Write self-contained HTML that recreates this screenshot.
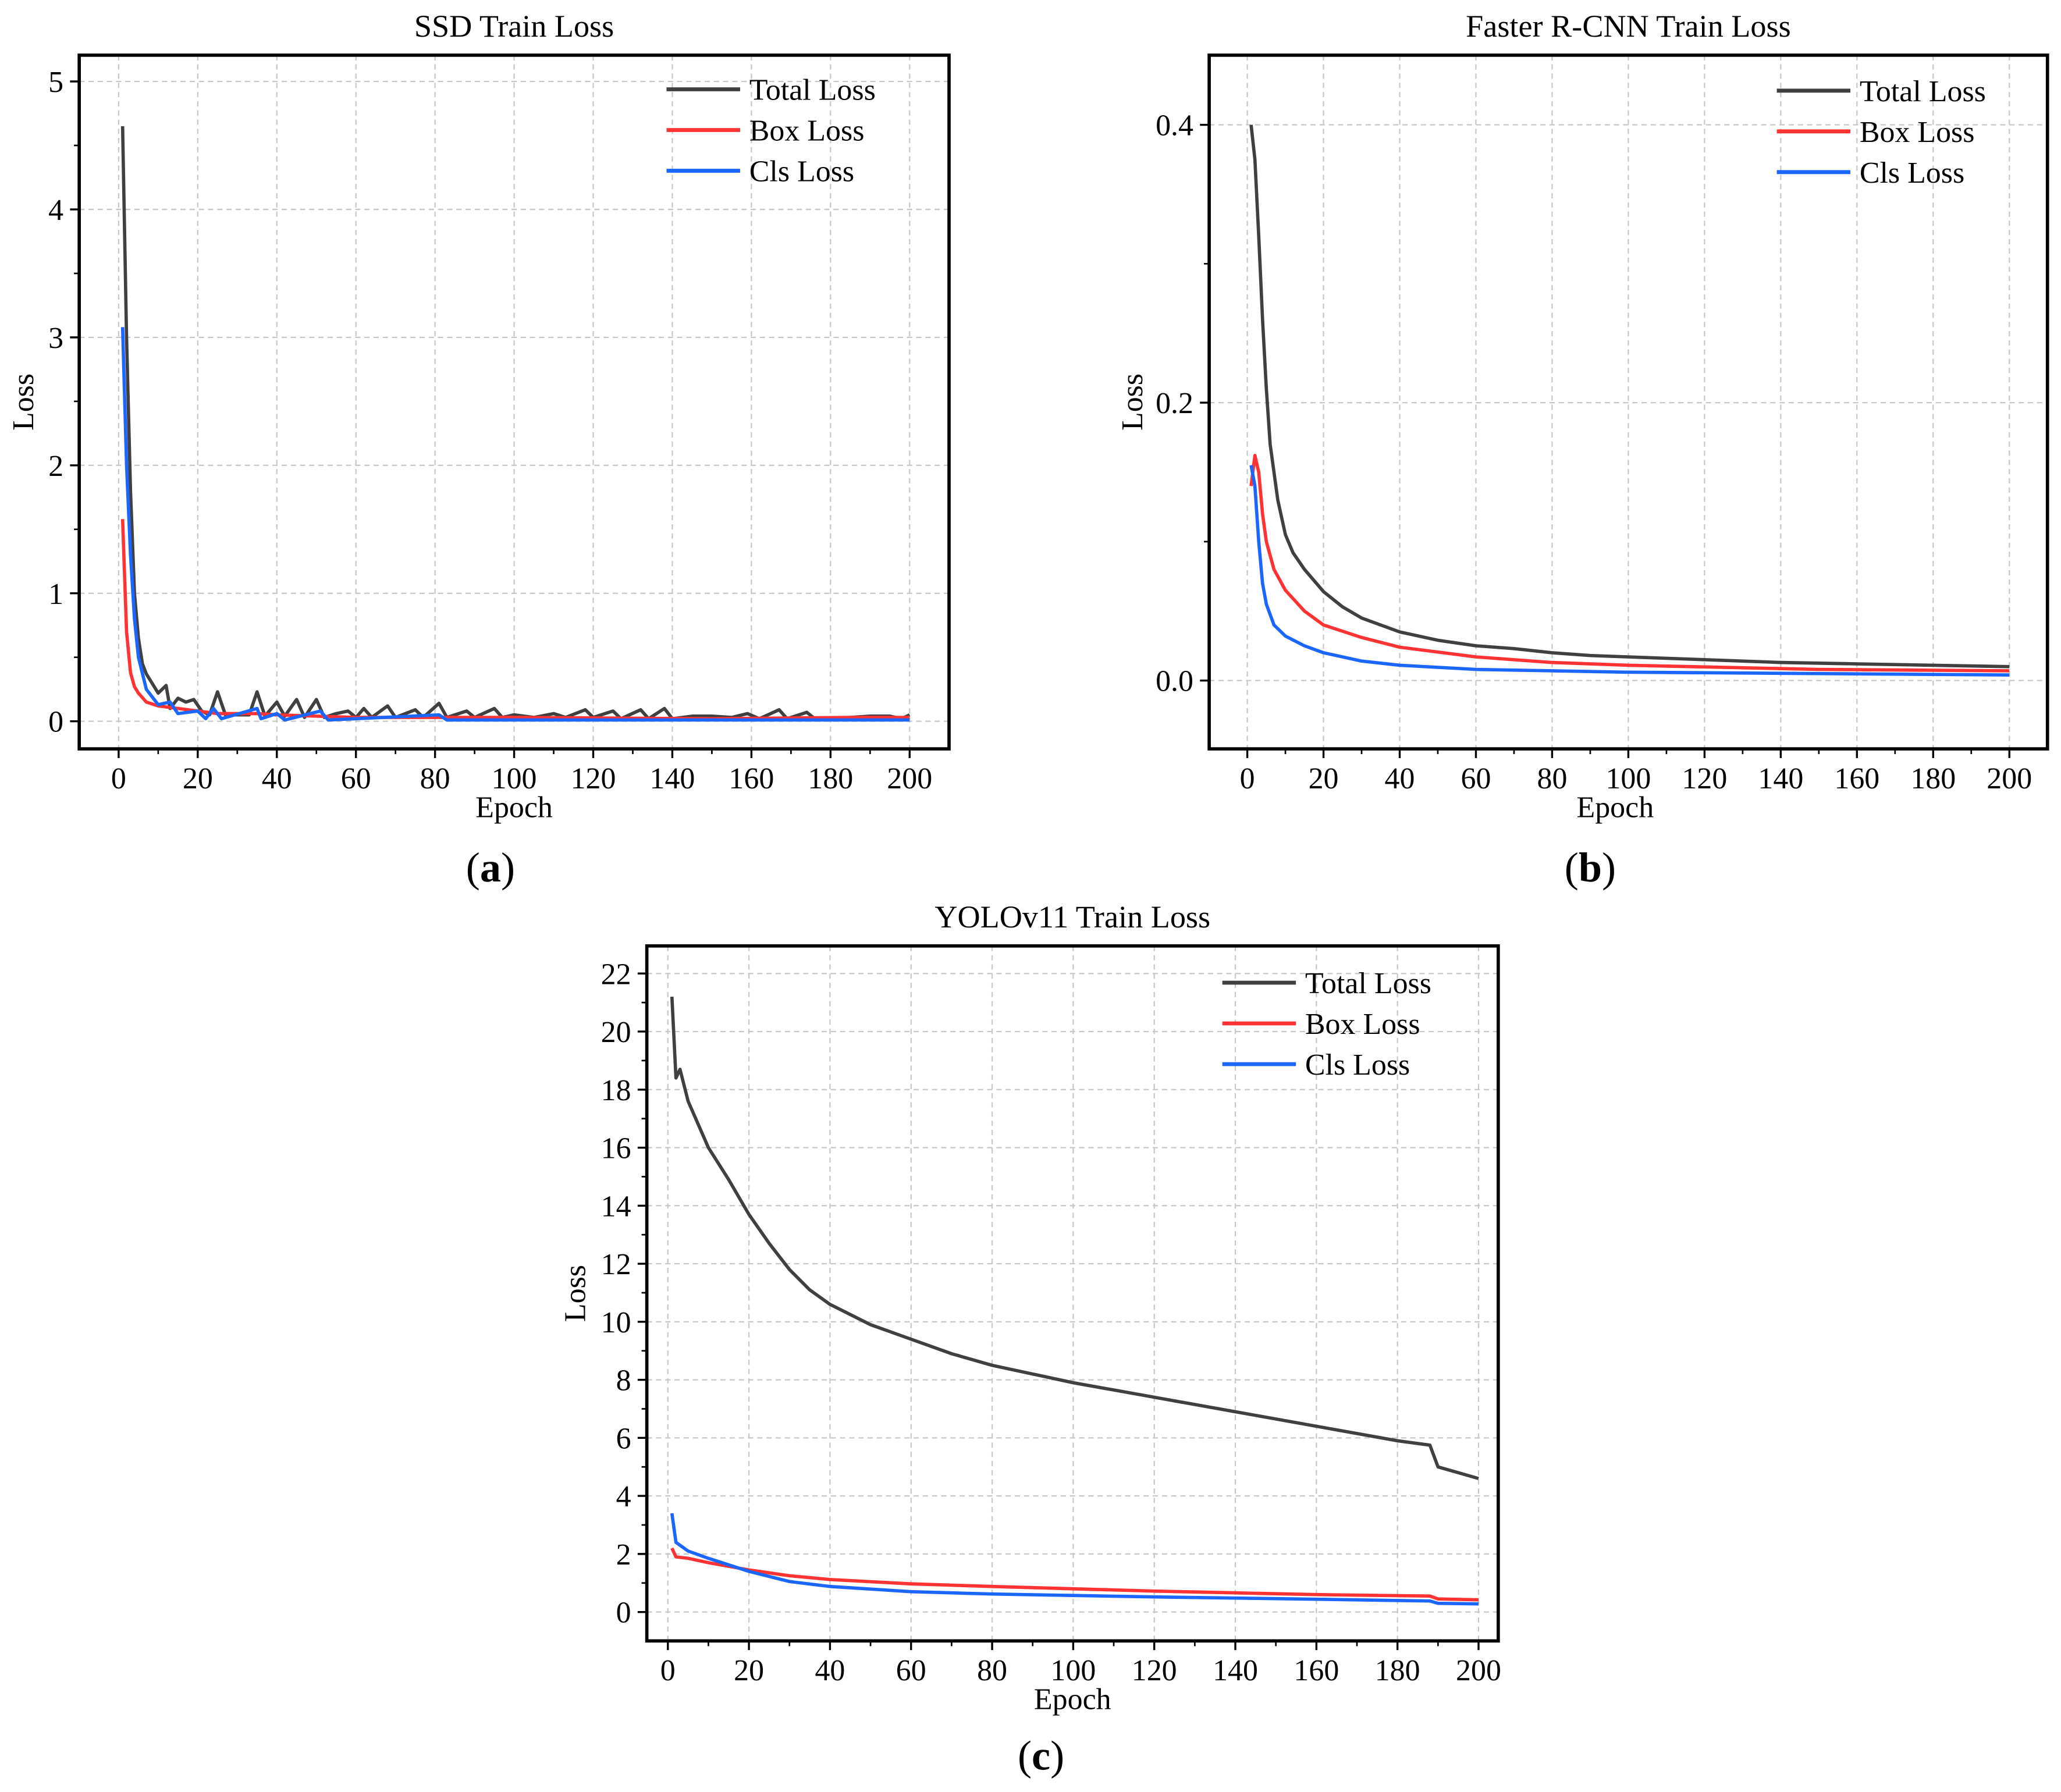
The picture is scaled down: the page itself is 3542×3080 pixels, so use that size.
<!DOCTYPE html>
<html><head><meta charset="utf-8">
<style>
html,body{margin:0;padding:0;background:#fff;}
svg{display:block;font-family:"Liberation Serif",serif;}
</style></head>
<body>
<svg id="root" width="3542" height="3080" viewBox="0 0 1568 1364" xmlns="http://www.w3.org/2000/svg"></svg>
<script>
// ---- data ----
const ssdTotal=[[1,4.65],[2,3.0],[3,1.8],[4,1.0],[5,0.65],[6,0.45],[7,0.37],[8,0.32],[10,0.22],[12,0.28],[13,0.1],[15,0.18],[17,0.15],[19,0.17],[21,0.08],[23,0.05],[25,0.23],[27,0.05],[30,0.05],[33,0.05],[35,0.23],[37,0.04],[40,0.15],[42,0.04],[45,0.17],[47,0.03],[50,0.17],[52,0.03],[55,0.06],[58,0.08],[60,0.03],[62,0.1],[64,0.03],[68,0.12],[70,0.03],[75,0.09],[77,0.03],[81,0.14],[83,0.03],[88,0.08],[90,0.03],[95,0.1],[97,0.03],[100,0.05],[105,0.03],[110,0.06],[113,0.03],[118,0.09],[120,0.03],[125,0.08],[127,0.02],[132,0.09],[134,0.02],[138,0.1],[140,0.02],[145,0.04],[150,0.04],[155,0.03],[159,0.06],[162,0.02],[167,0.09],[169,0.02],[174,0.07],[176,0.02],[185,0.03],[190,0.04],[195,0.04],[198,0.02],[200,0.05]];
const ssdBox=[[1,1.58],[2,0.7],[3,0.38],[4,0.27],[5,0.22],[7,0.15],[10,0.12],[15,0.1],[20,0.08],[25,0.06],[35,0.06],[40,0.05],[60,0.03],[100,0.03],[150,0.02],[185,0.03],[200,0.03]];
const ssdCls=[[1,3.08],[2,2.0],[3,1.3],[4,0.8],[5,0.5],[7,0.25],[10,0.13],[13,0.15],[15,0.06],[20,0.08],[22,0.02],[24,0.1],[26,0.02],[35,0.1],[36,0.02],[40,0.06],[42,0.01],[51,0.08],[53,0.01],[81,0.05],[83,0.01],[200,0.01]];
const frTotal=[[1,0.40],[2,0.375],[3,0.32],[4,0.26],[5,0.21],[6,0.17],[8,0.13],[10,0.105],[12,0.092],[15,0.08],[20,0.064],[25,0.053],[30,0.045],[40,0.035],[50,0.029],[60,0.025],[70,0.023],[80,0.020],[90,0.018],[100,0.017],[120,0.015],[140,0.013],[160,0.012],[180,0.011],[200,0.010]];
const frBox=[[1,0.14],[2,0.162],[3,0.15],[4,0.12],[5,0.10],[7,0.08],[10,0.065],[15,0.05],[20,0.04],[30,0.031],[40,0.024],[60,0.017],[80,0.013],[100,0.011],[150,0.008],[200,0.007]];
const frCls=[[1,0.155],[2,0.14],[3,0.10],[4,0.07],[5,0.055],[7,0.04],[10,0.032],[15,0.025],[20,0.02],[30,0.014],[40,0.011],[60,0.008],[100,0.006],[200,0.004]];
const yoTotal=[[1,21.2],[2,18.4],[3,18.7],[5,17.6],[10,16.0],[15,14.9],[20,13.7],[25,12.7],[30,11.8],[35,11.1],[40,10.6],[50,9.9],[60,9.4],[70,8.9],[80,8.5],[90,8.2],[100,7.9],[120,7.4],[140,6.9],[160,6.4],[180,5.9],[188,5.75],[190,5.0],[195,4.8],[200,4.6]];
const yoBox=[[1,2.2],[2,1.9],[5,1.85],[10,1.7],[20,1.45],[30,1.25],[40,1.12],[60,0.97],[80,0.88],[100,0.8],[120,0.72],[140,0.66],[160,0.6],[188,0.55],[190,0.45],[200,0.42]];
const yoCls=[[1,3.4],[2,2.4],[5,2.1],[10,1.85],[20,1.4],[30,1.05],[40,0.88],[60,0.7],[80,0.62],[100,0.57],[120,0.52],[140,0.48],[160,0.44],[188,0.38],[190,0.3],[200,0.28]];
const xTicks=[0,20,40,60,80,100,120,140,160,180,200];
const ssdYTicks=[0,1,2,3,4,5];
const frYTicks=[0.0,0.2,0.4];
const yoYTicks=[0,2,4,6,8,10,12,14,16,18,20,22];
const legendLabels=["Total Loss","Box Loss","Cls Loss"];
const colors=["#404040","#ff3333","#1a66ff"];

const NS="http://www.w3.org/2000/svg";
const root=document.getElementById('root');
function mk(tag,attrs,parent,text){const e=document.createElementNS(NS,tag);for(const k in attrs)e.setAttribute(k,attrs[k]);if(text!==undefined)e.textContent=text;(parent||root).appendChild(e);return e;}

function chart(o){
  const g=mk('g',{});
  
  
  const X=v=>o.x0+(v-0)*(o.x200-o.x0)/200;
  const Y=v=>o.yA+(v-o.vA)*(o.yB-o.yA)/(o.vB-o.vA);
  xTicks.forEach(t=>{const l=mk('line',{x1:X(t),x2:X(t),y1:o.top,y2:o.bot,stroke:'#c8c8c8','stroke-width':1,'stroke-dasharray':'4,3'},g);
    });
  o.yTicks.forEach(t=>{const l=mk('line',{x1:o.left,x2:o.right,y1:Y(t),y2:Y(t),stroke:'#c8c8c8','stroke-width':1,'stroke-dasharray':'4,3'},g);
    });
  [o.s[0],o.s[1],o.s[2]].forEach((s,i)=>{
    const p=mk('polyline',{points:s.map(d=>X(d[0]).toFixed(2)+','+Y(d[1]).toFixed(2)).join(' '),fill:'none',stroke:colors[i],'stroke-width':2.5,'stroke-linejoin':'round'},g);
    
    
  });
  const f=mk('rect',{x:o.left,y:o.top,width:o.right-o.left,height:o.bot-o.top,fill:'none',stroke:'#000','stroke-width':2.5},g);
  
  xTicks.forEach(t=>{mk('line',{x1:X(t),x2:X(t),y1:o.bot,y2:o.bot+7,stroke:'#000','stroke-width':1.5},g);
    if(t<200)mk('line',{x1:X(t+10),x2:X(t+10),y1:o.bot,y2:o.bot+4,stroke:'#000','stroke-width':1.2},g);
    const tx=mk('text',{x:X(t),y:o.bot+30,'text-anchor':'middle','font-size':23},g,String(t));
    });
  o.yTicks.forEach((t,i)=>{mk('line',{x1:o.left-7,x2:o.left,y1:Y(t),y2:Y(t),stroke:'#000','stroke-width':1.5},g);
    if(i<o.yTicks.length-1){const m=(t+o.yTicks[i+1])/2;mk('line',{x1:o.left-4,x2:o.left,y1:Y(m),y2:Y(m),stroke:'#000','stroke-width':1.2},g);}
    const tx=mk('text',{x:o.left-12,y:Y(t)+8,'text-anchor':'end','font-size':23},g,o.fmt(t));
    });
  const ti=mk('text',{x:(o.left+o.right)/2,y:o.top-14,'text-anchor':'middle','font-size':24},g,o.title);
  
  const xl=mk('text',{x:(o.left+o.right)/2+(o.xlShift||0),y:o.bot+52,'text-anchor':'middle','font-size':23},g,'Epoch');
  
  const yl=mk('text',{x:0,y:0,'text-anchor':'middle','font-size':23,transform:`translate(${o.ylx},${(o.top+o.bot)/2}) rotate(-90)`},g,'Loss');
  
  legendLabels.forEach((lab,i)=>{const y=o.legY+i*31;
    const ln=mk('line',{x1:o.legX,x2:o.legX+56,y1:y,y2:y,stroke:colors[i],'stroke-width':3},g);
    
    const t=mk('text',{x:o.legX+63,y:y+8,'font-size':23},g,lab);
    });
  const c=mk('text',{x:o.capX,y:o.capY,'text-anchor':'middle','font-size':32},g);
  
  mk('tspan',{},c,'(');mk('tspan',{'font-weight':'bold'},c,o.cap);mk('tspan',{},c,')');
}
chart({name:'ssd-chart',title:'SSD Train Loss',left:60,right:722,top:42,bot:570,x0:90,x200:692,yA:549,vA:0,yB:62,vB:5,yTicks:ssdYTicks,fmt:t=>String(t),s:[ssdTotal,ssdBox,ssdCls],ylx:25,legX:507,legY:68,capX:373,capY:671,cap:'a'});
chart({name:'faster-rcnn-chart',title:'Faster R-CNN Train Loss',left:920,right:1558,top:42,bot:570,x0:949,x200:1529,yA:518,vA:0,yB:95,vB:0.4,yTicks:frYTicks,fmt:t=>t.toFixed(1),s:[frTotal,frBox,frCls],ylx:869,legX:1352,legY:69,capX:1210,capY:671,cap:'b',xlShift:-10});
chart({name:'yolov11-chart',title:'YOLOv11 Train Loss',left:492,right:1140,top:720,bot:1249,x0:508,x200:1125,yA:1227,vA:0,yB:741,vB:22,yTicks:yoYTicks,fmt:t=>String(t),s:[yoTotal,yoBox,yoCls],ylx:445,legX:930,legY:748,capX:792,capY:1347,cap:'c'});
</script>
</body></html>
